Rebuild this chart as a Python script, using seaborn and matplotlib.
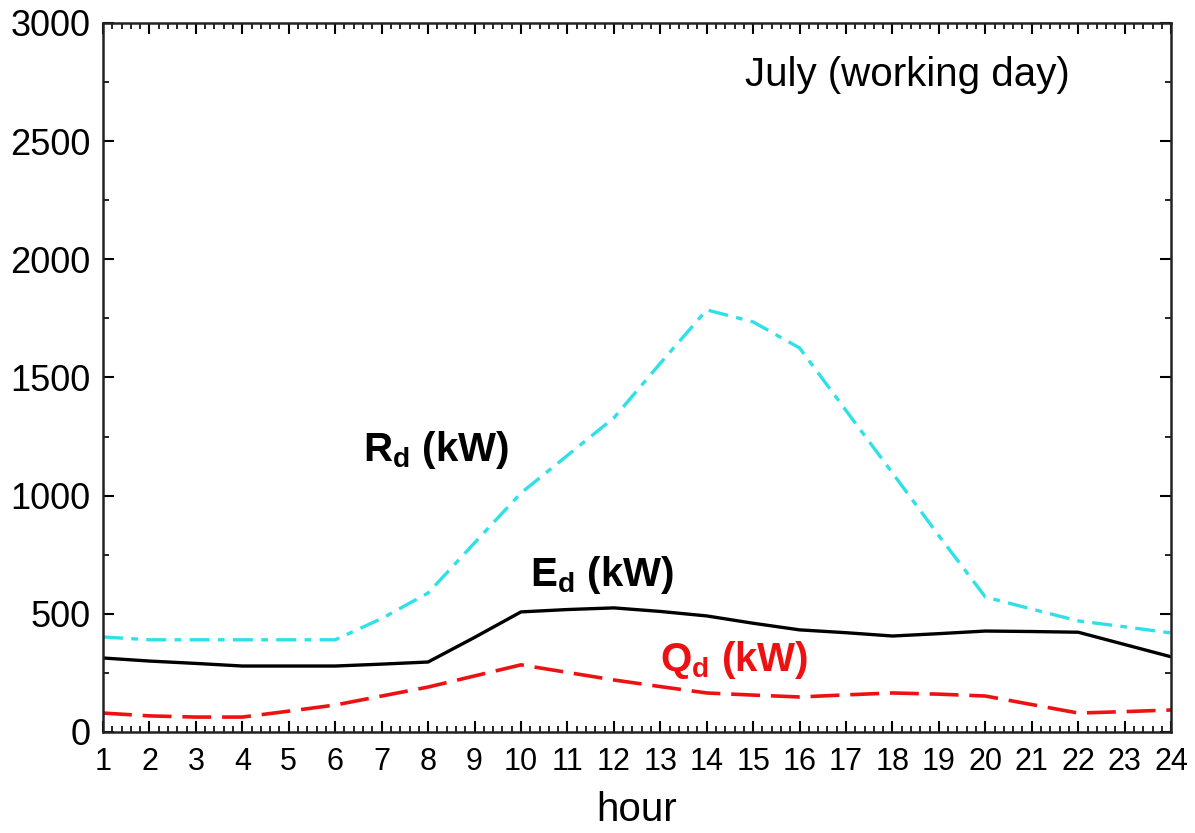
import matplotlib
matplotlib.use("Agg")
import matplotlib.pyplot as plt
from matplotlib.ticker import MultipleLocator
import seaborn as sns
import pandas as pd

hours = list(range(1, 25))
rd = [402, 390, 390, 390, 390, 390, 480, 588, 800, 1011, 1170, 1329, 1560, 1786,
      1735, 1625, 1360, 1096, 830, 571, 520, 470, 445, 419]
ed = [313, 300, 290, 279, 279, 279, 287, 296, 400, 508, 518, 525, 510, 491,
      460, 432, 420, 406, 416, 427, 425, 422, 370, 318]
qd = [80, 68, 63, 63, 88, 114, 152, 190, 237, 284, 252, 220, 192, 165,
      156, 148, 157, 165, 160, 152, 116, 80, 86, 93]

sns.set_style("ticks")
plt.rcParams['font.family'] = ['Liberation Sans', 'DejaVu Sans']
plt.rcParams['mathtext.fontset'] = 'custom'
plt.rcParams['mathtext.rm'] = 'Liberation Sans'
plt.rcParams['mathtext.bf'] = 'Liberation Sans:bold'
plt.rcParams['text.color'] = 'black'
plt.rcParams['axes.labelcolor'] = 'black'
plt.rcParams['xtick.color'] = 'black'
plt.rcParams['ytick.color'] = 'black'

df = pd.DataFrame({"hour": hours, "Rd": rd, "Ed": ed, "Qd": qd})

fig = plt.figure(figsize=(11.95, 8.33), dpi=100)
ax = fig.add_axes([0.0862, 0.1213, 0.8938, 0.8511])

sns.lineplot(data=df, x="hour", y="Rd", ax=ax, color="#2ee0e8", linewidth=2.4)
ax.lines[-1].set_dashes([6, 2.5, 2, 2.5])
sns.lineplot(data=df, x="hour", y="Ed", ax=ax, color="black", linewidth=2.4)
sns.lineplot(data=df, x="hour", y="Qd", ax=ax, color="#ee1111", linewidth=2.6)
ax.lines[-1].set_dashes([8, 3])

ax.set_xlim(1, 24)
ax.set_ylim(0, 3000)
ax.set_xticks(hours)
ax.set_xticklabels([str(h) for h in hours])
ax.xaxis.set_minor_locator(MultipleLocator(0.2))
ax.set_yticks(range(0, 3001, 500))
ax.yaxis.set_minor_locator(MultipleLocator(250))
ax.tick_params(axis="both", which="major", direction="in", length=8, width=1.5,
               top=True, right=True, colors="black")
ax.tick_params(axis="x", which="major", labelsize=22, pad=11)
ax.tick_params(axis="y", which="major", labelsize=26, pad=9)
ax.tick_params(axis="both", which="minor", direction="in", length=4, width=1.2,
               top=True, right=True)
for s in ax.spines.values():
    s.set_linewidth(1.8)
    s.set_color("#222222")

ax.set_xlabel("hour", fontsize=29, labelpad=10)
ax.set_ylabel("")

ax.text(0.905, 0.927, "July (working day)", transform=ax.transAxes,
        fontsize=29, ha="right", va="center")
ax.text(6.6, 1193, r"$\mathbf{R_d}$ (kW)", fontsize=29, fontweight="bold",
        ha="left", va="center")
ax.text(10.2, 664, r"$\mathbf{E_d}$ (kW)", fontsize=29, fontweight="bold",
        ha="left", va="center")
ax.text(13.0, 305, r"$\mathbf{Q_d}$ (kW)", fontsize=29, fontweight="bold",
        ha="left", va="center", color="#ee1111")

fig.savefig("out.png", dpi=100)
